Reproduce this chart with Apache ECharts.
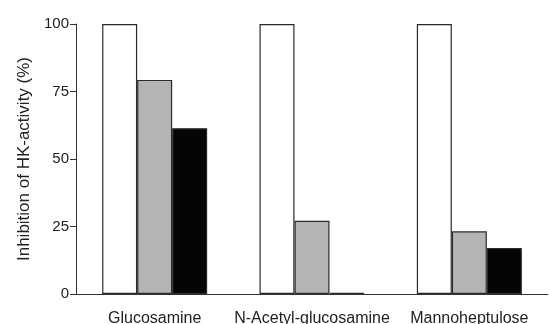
<!DOCTYPE html>
<html><head><meta charset="utf-8">
<script src="https://cdn.jsdelivr.net/npm/echarts@6/dist/echarts.min.js"></script>
<style>html,body{margin:0;padding:0;background:#fff}#c{width:550px;height:324px}</style>
</head><body><div id="c"></div>
<script>
const categories = ["Glucosamine", "N-Acetyl-glucosamine", "Mannoheptulose"];
const seriesNames = ["Series 1", "Series 2", "Series 3"];
const valuesWhite = [100, 100, 100];
const valuesGray = [79.3, 27.1, 23.2];
const valuesBlack = [61.4, 0.4, 17.0];
const yTicks = [0, 25, 50, 75, 100];

const font = "Liberation Sans, Arial, sans-serif";
const chart = echarts.init(document.getElementById('c'), null, {renderer: 'canvas'});
const barStyle = (fill) => ({ color: fill, borderColor: '#2a2a2a', borderWidth: 1.2 });
chart.setOption({
  backgroundColor: '#ffffff',
  animation: false,
  grid: { left: 76, right: 2, top: 24, bottom: 30, containLabel: false, outerBoundsMode: 'none' },
  xAxis: {
    type: 'category', data: categories,
    axisLine: { lineStyle: { color: '#333', width: 1 } },
    axisTick: { show: false },
    axisLabel: { interval: 0, color: '#222', fontFamily: font, fontSize: 16, margin: 17 }
  },
  yAxis: {
    type: 'value', min: yTicks[0], max: yTicks[yTicks.length - 1], interval: 25,
    name: 'Inhibition of HK-activity (%)', nameLocation: 'middle', nameGap: 43,
    nameTextStyle: { color: '#222', fontFamily: font, fontSize: 17 },
    axisLine: { show: true, lineStyle: { color: '#333', width: 1 } },
    axisTick: { show: true, length: 6, lineStyle: { color: '#333' } },
    axisLabel: { color: '#222', fontFamily: font, fontSize: 15, margin: 7 },
    splitLine: { show: false }
  },
  series: [
    { name: seriesNames[0], type: 'bar', data: valuesWhite, barWidth: 35, barGap: '0%', itemStyle: barStyle('#ffffff') },
    { name: seriesNames[1], type: 'bar', data: valuesGray, barWidth: 35, barGap: '0%', itemStyle: barStyle('#b4b4b4') },
    { name: seriesNames[2], type: 'bar', data: valuesBlack, barWidth: 35, barGap: '0%', itemStyle: barStyle('#050505') }
  ]
});
</script></body></html>
